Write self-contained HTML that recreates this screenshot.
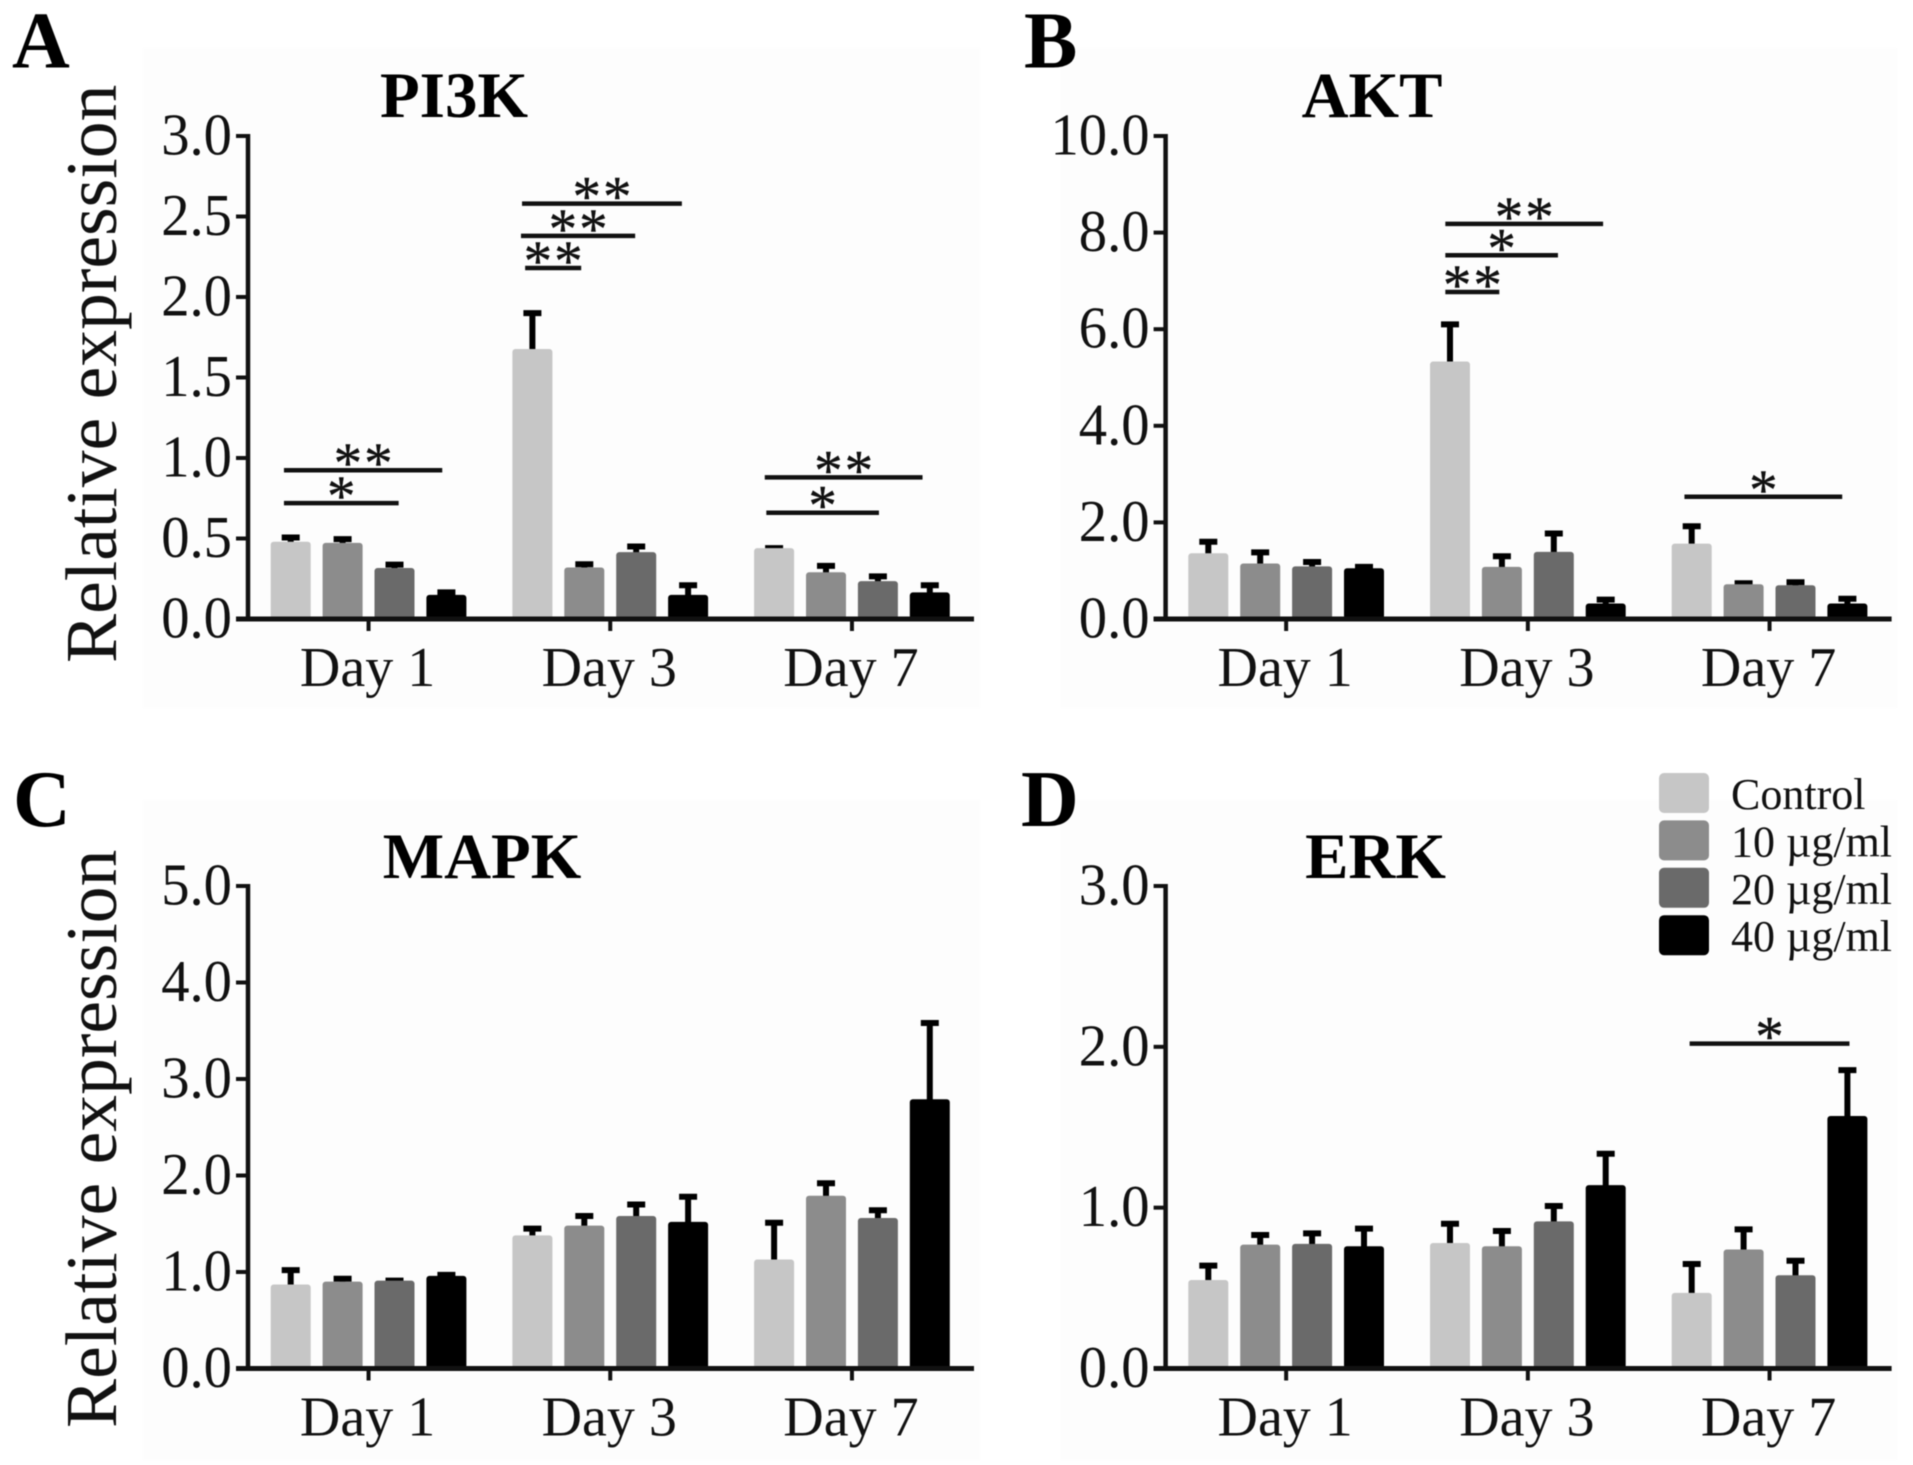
<!DOCTYPE html>
<html lang="en">
<head>
<meta charset="utf-8">
<title>Relative expression of PI3K, AKT, MAPK and ERK</title>
<style>
html,body{margin:0;padding:0;background:#fff;width:1913px;height:1465px;overflow:hidden}
svg{display:block;font-family:"Liberation Serif","DejaVu Serif",serif;filter:blur(0.5px)}
</style>
</head>
<body>
<svg id="figure" xmlns="http://www.w3.org/2000/svg" width="1913" height="1465" viewBox="0 0 1913 1465"></svg>
<script>
var days = ['Day 1', 'Day 3', 'Day 7'];
var doses = ['Control', '10 µg/ml', '20 µg/ml', '40 µg/ml'];
var doseColors = ['#c6c6c6', '#8c8c8c', '#6a6a6a', '#000000'];

var pi3kMeans = [[0.48, 0.473, 0.317, 0.15], [1.677, 0.32, 0.415, 0.15], [0.44, 0.29, 0.235, 0.165]];
var pi3kUpper = [[0.506, 0.496, 0.3375, 0.165], [1.90, 0.34, 0.45, 0.21], [0.44, 0.33, 0.265, 0.21]];
var pi3kTicks = ['0.0', '0.5', '1.0', '1.5', '2.0', '2.5', '3.0'];
var pi3kSig = [
  [0, -0.13, 2.92, 0.924, '**'], [0, -0.13, 2.08, 0.72, '*'],
  [1, -0.2, 2.88, 2.58, '**'], [1, -0.22, 1.98, 2.38, '**'], [1, -0.14, 0.94, 2.18, '**'],
  [2, -0.18, 2.86, 0.88, '**'], [2, -0.15, 2.02, 0.66, '*']
];

var aktMeans = [[1.36, 1.15, 1.09, 1.05], [5.33, 1.08, 1.39, 0.32], [1.56, 0.72, 0.7, 0.32]];
var aktUpper = [[1.6, 1.38, 1.18, 1.08], [6.1, 1.3, 1.77, 0.4], [1.92, 0.74, 0.76, 0.42]];
var aktTicks = ['0.0', '2.0', '4.0', '6.0', '8.0', '10.0'];
var aktSig = [
  [1, -0.09, 2.95, 8.18, '**'], [1, -0.09, 2.08, 7.53, '*'], [1, -0.09, 0.95, 6.77, '**'],
  [2, -0.14, 2.9, 2.53, '*']
];

var mapkMeans = [[0.87, 0.9, 0.91, 0.96], [1.38, 1.48, 1.58, 1.52], [1.13, 1.79, 1.56, 2.79]];
var mapkUpper = [[1.02, 0.93, 0.91, 0.97], [1.45, 1.58, 1.7, 1.78], [1.51, 1.92, 1.64, 3.58]];
var mapkTicks = ['0.0', '1.0', '2.0', '3.0', '4.0', '5.0'];
var mapkSig = [];

var erkMeans = [[0.55, 0.77, 0.775, 0.76], [0.78, 0.76, 0.915, 1.14], [0.47, 0.74, 0.58, 1.57]];
var erkUpper = [[0.64, 0.83, 0.84, 0.87], [0.9, 0.855, 1.01, 1.335], [0.65, 0.865, 0.67, 1.855]];
var erkTicks = ['0.0', '1.0', '2.0', '3.0'];
var erkSig = [[2, -0.04, 3.04, 2.02, '*']];

var svg = document.getElementById('figure');
var NS = 'http://www.w3.org/2000/svg';

function make(tag, parent, attrs, text) {
  var el = document.createElementNS(NS, tag);
  for (var k in attrs) { el.setAttribute(k, attrs[k]); }
  if (text !== undefined) { el.textContent = text; }
  parent.appendChild(el);
  return el;
}

function drawPanel(cfg) {
  var g = make('g', svg, {});
  
  

  var bg = make('rect', g, {x: cfg.ox + 143, y: cfg.oy + 48, width: 837, height: 660, fill: '#fdfdfd'});
  
  

  var yTop = cfg.yTop, yZero = cfg.yZero;
  var ticks = cfg.ticks;
  var maxV = parseFloat(ticks[ticks.length - 1]);
  function yScale(v) { return yZero - (v / maxV) * (yZero - yTop); }
  function barCenter(day, i) { return cfg.ox + 290.7 + day * 241.7 + i * 51.9; }

  var letter = make('text', g, {x: cfg.letterX, y: cfg.letterY, 'font-size': 80, 'font-weight': 'bold', fill: '#000'}, cfg.letter);
  
  

  var title = make('text', g, {x: cfg.titleX, y: cfg.titleY, 'font-size': 65, 'font-weight': 'bold', 'text-anchor': 'middle', fill: '#000'}, cfg.title);
  
  

  if (cfg.yTitle) {
    var yt = make('text', g, {transform: 'translate(116,' + cfg.yTitleY + ') rotate(-90)', 'font-size': 73.6, fill: '#111'}, 'Relative expression');
    
    
  }

  days.forEach(function (day, d) {
    doses.forEach(function (dose, i) {
      var mean = cfg.means[d][i], up = cfg.upper[d][i];
      var cx = barCenter(d, i);
      var stem = make('line', g, {x1: cx, x2: cx, y1: yScale(mean) + 2, y2: yScale(up), stroke: '#000', 'stroke-width': 6});
      
      
      var cap = make('line', g, {x1: cx - 9, x2: cx + 9, y1: yScale(up), y2: yScale(up), stroke: '#000', 'stroke-width': 6});
      
      
      var bar = make('rect', g, {x: cx - 20, y: yScale(mean), width: 40, height: yZero - yScale(mean), rx: 3, fill: doseColors[i]});
      
      
    });
  });

  var yAxis = make('line', g, {x1: cfg.ox + 248, x2: cfg.ox + 248, y1: yTop - 2, y2: yZero + 2, stroke: '#111', 'stroke-width': 4.5});
  
  
  var xAxis = make('line', g, {x1: cfg.ox + 236, x2: cfg.ox + 974, y1: yZero, y2: yZero, stroke: '#111', 'stroke-width': 5});
  
  

  ticks.forEach(function (label) {
    var y = yScale(parseFloat(label));
    var t = make('line', g, {x1: cfg.ox + 236, x2: cfg.ox + 248, y1: y, y2: y, stroke: '#111', 'stroke-width': 4});
    
    
    var lb = make('text', g, {transform: 'translate(' + (cfg.ox + 232) + ',' + (y + 18.5) + ') scale(0.96,1)', 'font-size': 59, 'text-anchor': 'end', fill: '#111'}, label);
    
    
  });

  days.forEach(function (day, d) {
    var x = barCenter(d, 1.5);
    var t = make('line', g, {x1: x, x2: x, y1: yZero, y2: yZero + 12, stroke: '#111', 'stroke-width': 4});
    
    
    var lb = make('text', g, {x: x - 1, y: yZero + 67, 'font-size': 56, 'text-anchor': 'middle', fill: '#111'}, day);
    
    
  });

  cfg.sig.forEach(function (s) {
    var x1 = barCenter(s[0], s[1]), x2 = barCenter(s[0], s[2]), y = yScale(s[3]);
    var ln = make('line', g, {x1: x1, x2: x2, y1: y, y2: y, stroke: '#111', 'stroke-width': 4.5});
    
    
    var st = make('text', g, {x: (x1 + x2) / 2 + 1, y: y + 12, 'font-size': 57, 'letter-spacing': 2, 'text-anchor': 'middle', fill: '#111', stroke: '#111', 'stroke-width': 0.4}, s[4]);
    
    
  });
}

drawPanel({key: 'pi3k', ox: 0, oy: 0, letter: 'A', letterX: 12, letterY: 67.5, title: 'PI3K', titleX: 454, titleY: 117,
  yTitle: true, yTitleY: 663, yTop: 136, yZero: 619, ticks: pi3kTicks, means: pi3kMeans, upper: pi3kUpper, sig: pi3kSig});
drawPanel({key: 'akt', ox: 917.6, oy: 0, letter: 'B', letterX: 1024, letterY: 67.5, title: 'AKT', titleX: 1372, titleY: 117,
  yTitle: false, yTop: 136, yZero: 619, ticks: aktTicks, means: aktMeans, upper: aktUpper, sig: aktSig});
drawPanel({key: 'mapk', ox: 0, oy: 752, letter: 'C', letterX: 13, letterY: 826, title: 'MAPK', titleX: 482, titleY: 878,
  yTitle: true, yTitleY: 1428, yTop: 886, yZero: 1368.5, ticks: mapkTicks, means: mapkMeans, upper: mapkUpper, sig: mapkSig});
drawPanel({key: 'erk', ox: 917.6, oy: 752, letter: 'D', letterX: 1021, letterY: 826, title: 'ERK', titleX: 1375.5, titleY: 878,
  yTitle: false, yTop: 886, yZero: 1368.5, ticks: erkTicks, means: erkMeans, upper: erkUpper, sig: erkSig});

var legend = make('g', svg, {});


doses.forEach(function (dose, i) {
  var top = 773 + i * 47.4;
  var sw = make('rect', legend, {x: 1659, y: top, width: 50, height: 40, rx: 5, fill: doseColors[i]});
  
  
  var lb = make('text', legend, {x: 1731, y: top + 36, 'font-size': 44, fill: '#111'}, dose);
  
  
});
</script>
</body>
</html>
